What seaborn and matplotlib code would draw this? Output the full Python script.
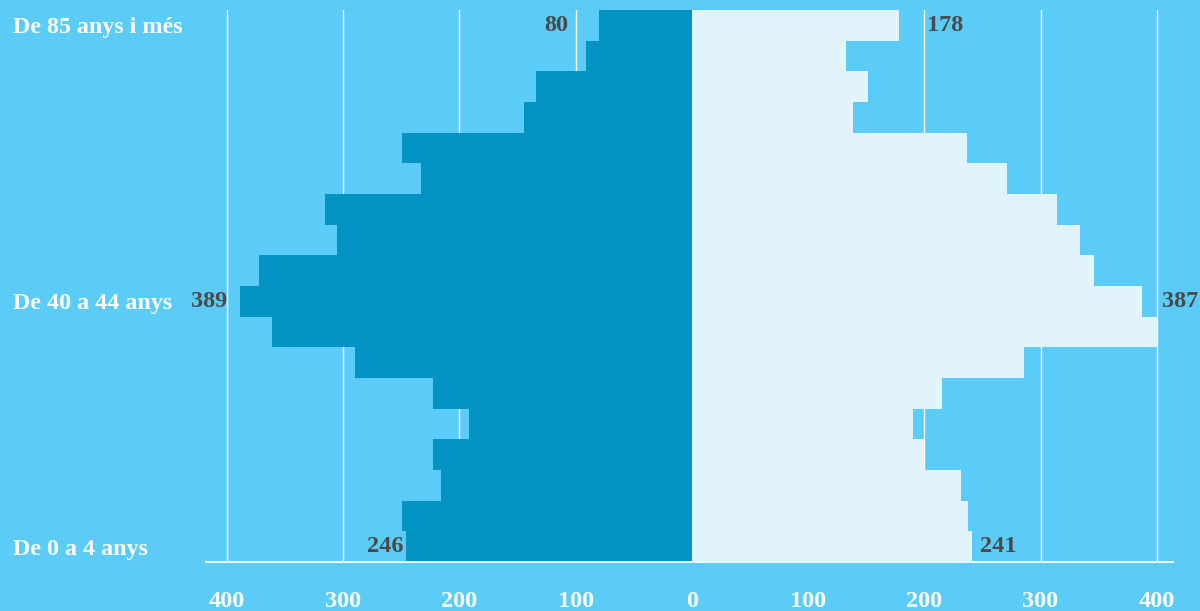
import matplotlib
matplotlib.use("Agg")
import matplotlib.pyplot as plt
import numpy as np
import pandas as pd
import seaborn as sns
from matplotlib.ticker import FuncFormatter, FixedLocator

# Age groups, youngest first
ages = [
    "De 0 a 4 anys", "De 5 a 9 anys", "De 10 a 14 anys", "De 15 a 19 anys",
    "De 20 a 24 anys", "De 25 a 29 anys", "De 30 a 34 anys", "De 35 a 39 anys",
    "De 40 a 44 anys", "De 45 a 49 anys", "De 50 a 54 anys", "De 55 a 59 anys",
    "De 60 a 64 anys", "De 65 a 69 anys", "De 70 a 74 anys", "De 75 a 79 anys",
    "De 80 a 84 anys", "De 85 anys i més",
]
# Population per age group (left side / right side)
homes = [246, 249, 216, 223, 192, 223, 290, 361, 389, 372, 305, 316, 233, 249, 144, 134, 91, 80]
dones = [241, 238, 232, 200, 190, 215, 286, 400, 387, 346, 334, 314, 271, 237, 139, 152, 133, 178]

shown_ages = ["De 85 anys i més", "De 40 a 44 anys", "De 0 a 4 anys"]
x_ticks = [-400, -300, -200, -100, 0, 100, 200, 300, 400]

BG = "#5BCCF7"
DARK = "#0293C2"
LIGHT = "#E1F4FB"
LABEL = "#4A4A4A"

sns.set_theme(style="white")
plt.rcParams["font.family"] = ["Liberation Serif", "DejaVu Serif"]
plt.rcParams["font.weight"] = "bold"

order = ages[::-1]  # oldest at the top
df = pd.DataFrame({
    "edat": ages * 2,
    "valor": [-v for v in homes] + dones,
    "sexe": ["Homes"] * len(ages) + ["Dones"] * len(ages),
})

fig = plt.figure(figsize=(12, 6.11), dpi=100, facecolor=BG)
ax = fig.add_axes([206 / 1200, 49 / 611, (1173 - 206) / 1200, (562 - 10) / 611])
ax.set_facecolor(BG)

sns.barplot(
    data=df, y="edat", x="valor", hue="sexe", order=order,
    hue_order=["Homes", "Dones"], palette={"Homes": DARK, "Dones": LIGHT},
    orient="h", dodge=False, width=1.0, saturation=1, linewidth=0,
    legend=False, ax=ax, zorder=2,
)

ax.set_xlim(-418, 414)
ax.set_ylim(len(ages) - 0.5, -0.5)
ax.xaxis.set_major_locator(FixedLocator(x_ticks))
ax.xaxis.set_major_formatter(FuncFormatter(lambda v, _: f"{abs(int(v))}"))
ax.grid(axis="x", color="white", linewidth=1.0, zorder=0)
ax.grid(axis="y", visible=False)
ax.set_axisbelow(True)

for side in ["top", "right", "left"]:
    ax.spines[side].set_visible(False)
ax.spines["bottom"].set_color("white")
ax.spines["bottom"].set_linewidth(1.3)
ax.spines["bottom"].set_zorder(3)

ax.set_yticks([order.index(a) for a in shown_ages])
ax.set_yticklabels(shown_ages)
ax.tick_params(axis="y", length=0, pad=139, labelsize=17.3, labelcolor="white")
for t in ax.get_yticklabels():
    t.set_horizontalalignment("left")
    t.set_fontweight("bold")
ax.tick_params(axis="x", length=0, pad=21, labelsize=17.5, labelcolor="white")
for t in ax.get_xticklabels():
    t.set_fontweight("bold")
ax.set_xlabel("")
ax.set_ylabel("")

# Value labels on the oldest, middle and youngest groups
labelled = [("De 85 anys i més", -31, 28), ("De 40 a 44 anys", -12, 20), ("De 0 a 4 anys", -2, 8)]
for age, off_left, off_right in labelled:
    i = ages.index(age)
    y = order.index(age)
    ax.annotate(f"{homes[i]}", xy=(-homes[i], y), xytext=(off_left * 0.72, 0),
                textcoords="offset points", ha="right", va="center",
                fontsize=17.5, fontweight="bold", color=LABEL, zorder=4)
    ax.annotate(f"{dones[i]}", xy=(dones[i], y), xytext=(off_right * 0.72, 0),
                textcoords="offset points", ha="left", va="center",
                fontsize=17.5, fontweight="bold", color=LABEL, zorder=4,
                annotation_clip=False)

fig.savefig("out.png", dpi=100, facecolor=BG)
